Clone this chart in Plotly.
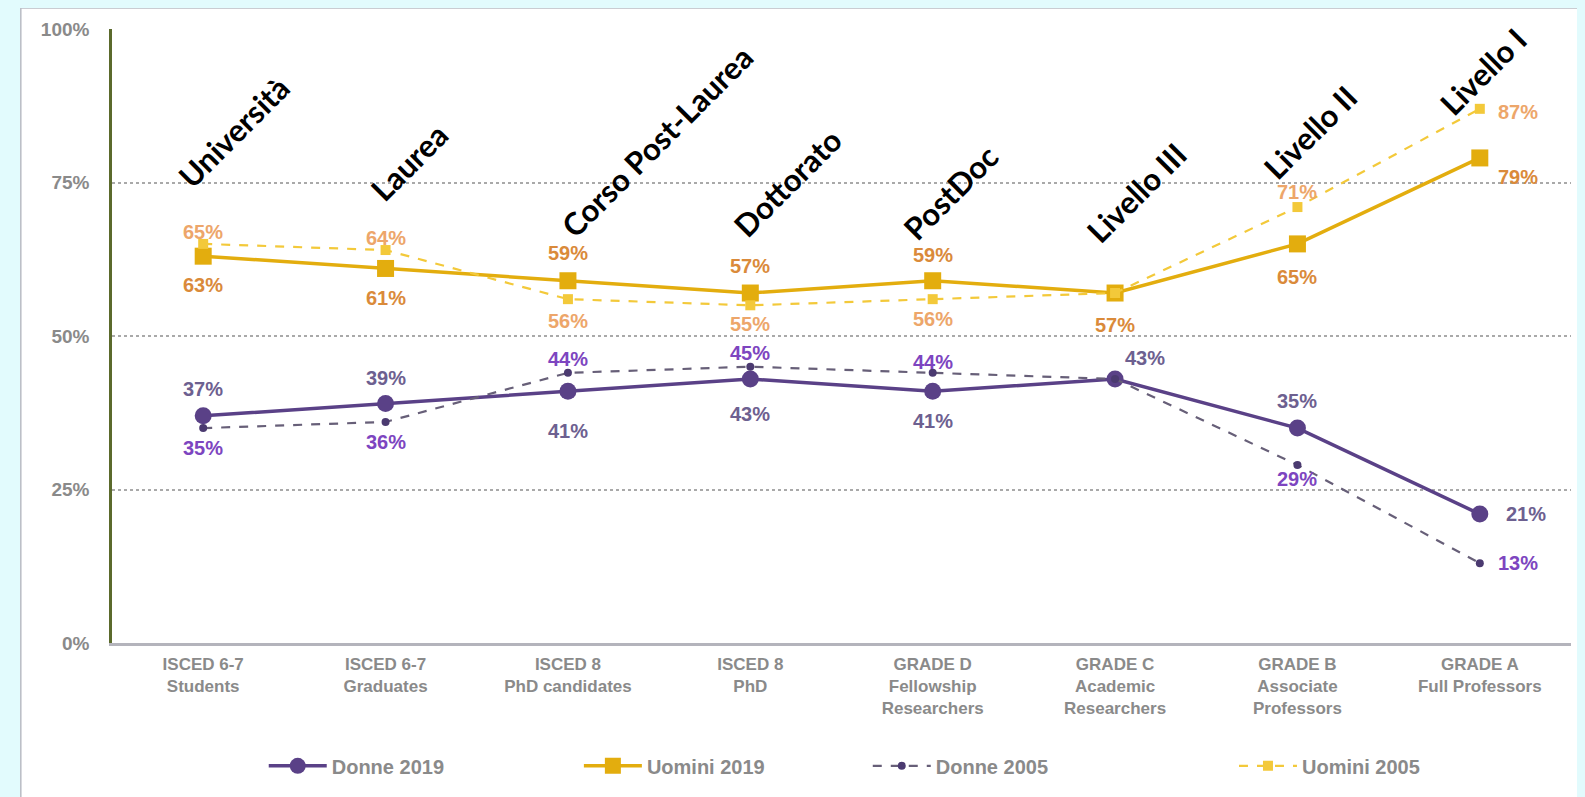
import plotly.graph_objects as go

categories = ["ISCED 6-7<br>Students", "ISCED 6-7<br>Graduates", "ISCED 8<br>PhD candidates",
              "ISCED 8<br>PhD", "GRADE D<br>Fellowship<br>Researchers", "GRADE C<br>Academic<br>Researchers",
              "GRADE B<br>Associate<br>Professors", "GRADE A<br>Full Professors"]
donne_2019 = [37, 39, 41, 43, 41, 43, 35, 21]
uomini_2019 = [63, 61, 59, 57, 59, 57, 65, 79]
donne_2005 = [35, 36, 44, 45, 44, 43, 29, 13]
uomini_2005 = [65, 64, 56, 55, 56, 57, 71, 87]
stage_labels = ["Università", "Laurea", "Corso Post-Laurea", "Dottorato", "PostDoc",
                "Livello III", "Livello II", "Livello I"]
y_ticks = [0, 25, 50, 75, 100]

# label offsets (px): (xshift, yshift); None = no label
off_d19 = [(0, 27), (0, 26), (0, -40), (0, -35), (0, -30), (30, 21), (0, 27), (46, 0)]
off_u19 = [(0, -29), (0, -30), (0, 28), (0, 27), (0, 26), (0, -32), (0, -33), (38, -19)]
off_d05 = [(0, -20), (0, -20), (0, 14), (0, 14), (0, 11), None, (0, -14), (38, 0)]
off_u05 = [(0, 12), (0, 12), (0, -22), (0, -19), (0, -20), None, (0, 15), (38, -3)]
# stage label centres: (category offset, y value)
stage_pos = [(0.165, 83.3), (0.13, 78.3), (0.49, 81.7), (0.20, 75.0), (0.10, 73.4),
             (0.12, 73.4), (0.07, 83.3), (0.02, 93.1)]
# legend box left positions (paper x)
legend_x = [0.104, 0.320, 0.518, 0.769]

C_D19 = "#5a4187"
C_D05 = "#675f78"
C_D05M = "#4b3a70"
C_U19 = "#e3ad0e"
C_U05 = "#f3c93a"
L_D19 = "#6d6090"
L_D05 = "#7d45c0"
L_U19 = "#da8a3a"
L_U05 = "#eda66a"
GRAY = "#8a8a8a"
PAGE = "#e2fbfd"

x = list(range(len(categories)))
fig = go.Figure()
fig.add_trace(go.Scatter(x=x, y=donne_2019, name="<b>Donne 2019</b>", mode="lines+markers", legend="legend",
                         line=dict(color=C_D19, width=3.5), marker=dict(symbol="circle", size=17, color=C_D19)))
fig.add_trace(go.Scatter(x=x, y=uomini_2019, name="<b>Uomini 2019</b>", mode="lines+markers", legend="legend2",
                         line=dict(color=C_U19, width=3.5), marker=dict(symbol="square", size=17, color=C_U19)))
fig.add_trace(go.Scatter(x=x, y=donne_2005, name="<b>Donne 2005</b>", mode="lines+markers", legend="legend3",
                         line=dict(color=C_D05, width=2.2, dash="dash"), marker=dict(symbol="circle", size=8, color=C_D05M)))
fig.add_trace(go.Scatter(x=x, y=uomini_2005, name="<b>Uomini 2005</b>", mode="lines+markers", legend="legend4",
                         line=dict(color=C_U05, width=2.2, dash="dash"), marker=dict(symbol="square", size=10, color=C_U05)))

def add_labels(vals, offs, color):
    for i, (v, o) in enumerate(zip(vals, offs)):
        if o is None:
            continue
        fig.add_annotation(x=i, y=v, text=f"<b>{v}%</b>", showarrow=False, xshift=o[0], yshift=o[1],
                           font=dict(family="Arial", size=20, color=color))

add_labels(donne_2019, off_d19, L_D19)
add_labels(uomini_2019, off_u19, L_U19)
add_labels(donne_2005, off_d05, L_D05)
add_labels(uomini_2005, off_u05, L_U05)

for i, (t, p) in enumerate(zip(stage_labels, stage_pos)):
    fig.add_annotation(x=i + p[0], y=p[1], text=f"<b>{t}</b>", showarrow=False, textangle=-45,
                       font=dict(family="Lato", size=31, color="black"))

# white panel on light cyan page
fig.add_shape(type="rect", xref="paper", yref="paper", x0=-0.0625, x1=1.2, y0=-0.4, y1=1.034,
              fillcolor="white", line=dict(color="#b9bcc4", width=1.5), layer="below")

def legend_cfg(lx):
    return dict(orientation="h", x=lx, xanchor="left", y=-0.2, yanchor="middle",
                font=dict(family="Arial", size=20, color=GRAY), itemwidth=58,
                bgcolor="rgba(0,0,0,0)")

fig.update_layout(
    width=1577, height=789,
    margin=dict(l=104, r=14, t=21, b=148),
    paper_bgcolor=PAGE, plot_bgcolor="white",
    font=dict(family="Arial", color=GRAY),
    showlegend=True,
    legend=legend_cfg(legend_x[0]),
    legend2=legend_cfg(legend_x[1]),
    legend3=legend_cfg(legend_x[2]),
    legend4=legend_cfg(legend_x[3]),
    xaxis=dict(tickmode="array", tickvals=x, ticktext=[f"<b>{c}</b>" for c in categories],
               range=[-0.5, 7.5], showgrid=False, zeroline=False, showline=True,
               linecolor="#b4b4bc", linewidth=2.5, ticks="", ticklabelstandoff=4,
               tickfont=dict(size=17, color=GRAY)),
    yaxis=dict(range=[0, 100], tickvals=y_ticks, ticktext=[f"<b>{v}%</b>" for v in y_ticks],
               showgrid=True, gridcolor="#a9a9a9", griddash="dot", gridwidth=1.5,
               zeroline=False, showline=True, linecolor="#5b6a2c", linewidth=2.5,
               ticks="", ticklabelstandoff=16, tickfont=dict(size=19, color=GRAY)),
)

fig.write_html("out.html", post_script=f"document.body.style.backgroundColor='{PAGE}';")
